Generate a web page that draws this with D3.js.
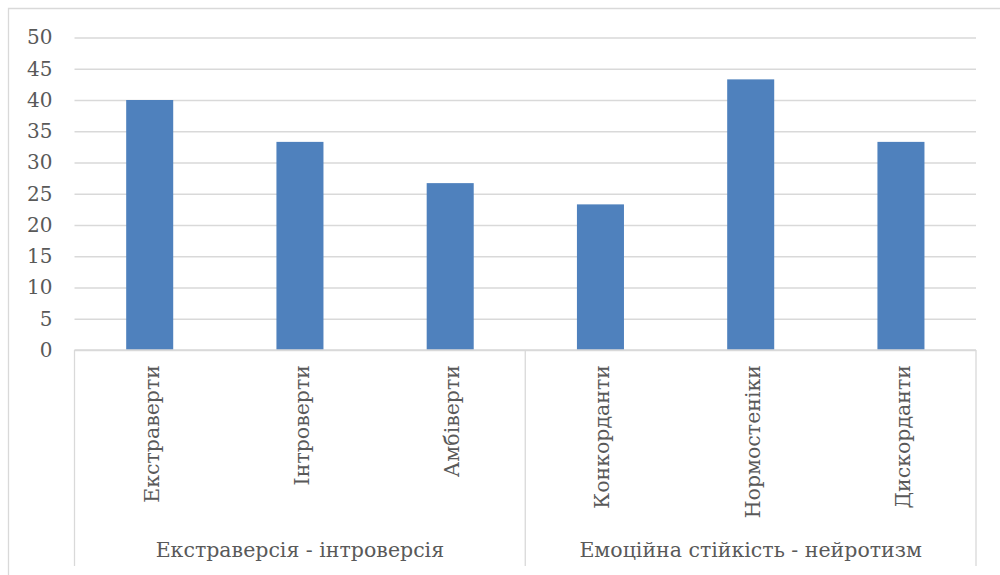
<!DOCTYPE html>
<html>
<head>
<meta charset="utf-8">
<script src="https://cdn.jsdelivr.net/npm/d3@7"></script>
<style>
  html, body { margin: 0; padding: 0; background: #fff; }
  svg { display: block; }
  text { font-family: "DejaVu Serif", "Liberation Serif", serif; fill: #595959; }
</style>
</head>
<body>
<script>
// Categories, their grouping and the percentage for each
const categories = ["Екстраверти", "Інтроверти", "Амбіверти", "Конкорданти", "Нормостеніки", "Дискорданти"];
const groups = ["Екстраверсія - інтроверсія", "Емоційна стійкість - нейротизм"];
const groupOf = [0, 0, 0, 1, 1, 1];
const values = [40, 33.3, 26.7, 23.3, 43.3, 33.3];
const yTicks = [0, 5, 10, 15, 20, 25, 30, 35, 40, 45, 50];

const W = 1000, H = 575;
const plot = { left: 74.5, right: 976, top: 37.5, bottom: 350 };
const gridColor = "#d9d9d9";
const fontFamily = '"DejaVu Serif", "Liberation Serif", serif';

const svg = d3.select("body").append("svg").attr("width", W).attr("height", H);

// chart frame (only top and left edges fall inside the view)
svg.append("path")
  .attr("d", "M8.5,575 V8.5 H1000")
  .attr("fill", "none").attr("stroke", gridColor).attr("stroke-width", 1.3);

const x = d3.scaleBand().domain(categories).range([plot.left, plot.right]).paddingInner(0).paddingOuter(0);
const y = d3.scaleLinear().domain([0, 50]).range([plot.bottom, plot.top]);

// horizontal gridlines + value labels
const yAxis = d3.axisLeft(y).tickValues(yTicks).tickSize(-(plot.right - plot.left)).tickPadding(22).tickFormat(d3.format("d"));
const gy = svg.append("g").attr("transform", `translate(${plot.left},0)`).call(yAxis)
  .attr("font-family", fontFamily).attr("font-size", 20);
gy.select(".domain").remove();
gy.selectAll(".tick line").attr("stroke", gridColor).attr("stroke-width", 1.3);
gy.selectAll(".tick text").attr("fill", "#595959");

// bars
svg.append("g").selectAll("rect").data(values).join("rect")
  .attr("x", (d, i) => x(categories[i]) + x.bandwidth() * 0.344)
  .attr("width", x.bandwidth() * 0.313)
  .attr("y", d => y(d))
  .attr("height", d => y(0) - y(d))
  .attr("fill", "#4f81bd");

// category axis line
svg.append("line")
  .attr("x1", plot.left).attr("x2", plot.right)
  .attr("y1", plot.bottom).attr("y2", plot.bottom)
  .attr("stroke", gridColor).attr("stroke-width", 1.3);

// group separators
const sepBottom = 566;
const sepX = [plot.left, x(categories[3]), plot.right];
svg.append("g").selectAll("line").data(sepX).join("line")
  .attr("x1", d => d).attr("x2", d => d)
  .attr("y1", plot.bottom).attr("y2", sepBottom)
  .attr("stroke", gridColor).attr("stroke-width", 1.3);

// rotated category labels
svg.append("g").selectAll("text").data(categories).join("text")
  .attr("transform", d => `translate(${x(d) + x.bandwidth() / 2 + 2},365) rotate(-90)`)
  .attr("text-anchor", "end")
  .attr("dominant-baseline", "central")
  .attr("font-size", 20.5)
  .text(d => d);

// group labels
svg.append("g").selectAll("text").data(groups).join("text")
  .attr("x", (g, gi) => {
    const members = categories.filter((c, i) => groupOf[i] === gi);
    return (x(members[0]) + x(members[members.length - 1]) + x.bandwidth()) / 2;
  })
  .attr("y", 557)
  .attr("text-anchor", "middle")
  .attr("font-size", 20.5)
  .text(d => d);
</script>
</body>
</html>
